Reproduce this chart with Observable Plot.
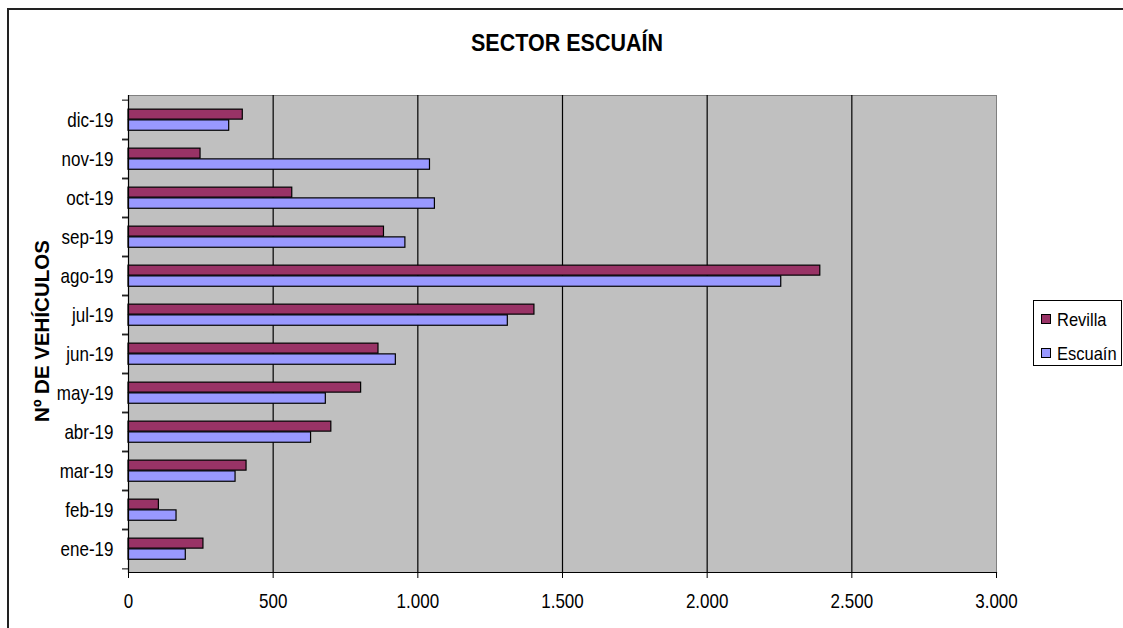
<!DOCTYPE html>
<html>
<head>
<meta charset="utf-8">
<script src="https://cdn.jsdelivr.net/npm/d3@7"></script>
<script src="https://cdn.jsdelivr.net/npm/@observablehq/plot@0.6"></script>
<style>
  body { margin: 0; background: #fff; }
  #wrap { position: relative; width: 1123px; height: 628px; overflow: hidden;
          font-family: 'Liberation Sans', Arial, sans-serif; color: #000; }
  #border { position: absolute; left: 7px; top: 8px; width: 1200px; height: 700px;
            border-left: 2px solid #222; border-top: 2px solid #222; }
  #chart { position: absolute; left: 0; top: 0; }
  #title { position: absolute; left: 367px; width: 400px; top: 31.5px; text-align: center;
           font-weight: bold; font-size: 21.5px; line-height: 21.5px; white-space: nowrap;
           transform: scaleY(1.15); transform-origin: 50% 3px; }
  #ytitle { position: absolute; left: -83px; top: 321px; width: 250px; height: 20px; text-align: center;
            font-weight: bold; font-size: 20.5px; line-height: 20px;
            transform: rotate(-90deg); transform-origin: 125px 10px; white-space: nowrap; }
  #legend { position: absolute; left: 1033px; top: 300px; width: 87px; height: 64px;
            background: #fff; border: 1px solid #000; }
  .item { position: absolute; left: 7px; height: 20px; display: flex; align-items: center;
          font-size: 16.5px; line-height: 20px; white-space: nowrap; }
  .lbl { display: inline-block; transform: scaleY(1.15); }
  .sw { width: 8px; height: 8px; border: 1px solid #000; margin-right: 6px; }
</style>
</head>
<body>
<div id="wrap">
  <div id="border"></div>
  <div id="chart"></div>
  <div id="title">SECTOR ESCUAÍN</div>
  <div id="ytitle">Nº DE VEHÍCULOS</div>
  <div id="legend"></div>
</div>
<script>
const months = ["ene-19","feb-19","mar-19","abr-19","may-19","jun-19","jul-19","ago-19","sep-19","oct-19","nov-19","dic-19"];
const revilla = [259, 105, 408, 701, 804, 864, 1403, 2391, 883, 566, 249, 395];
const escuain = [198, 166, 370, 631, 682, 924, 1311, 2256, 957, 1059, 1042, 348];
const seriesNames = ["Revilla", "Escuaín"];
const seriesColors = ["#993366", "#9999FF"];
const xTicks = [0, 500, 1000, 1500, 2000, 2500, 3000];
const gridTicks = [500, 1000, 1500, 2000, 2500];

const esLocale = d3.formatLocale({decimal: ",", thousands: ".", grouping: [3], currency: ["", " €"]});
const fmt = esLocale.format(",d");

const rows = months.map((m, i) => ({month: m, revilla: revilla[i], escuain: escuain[i]}));

const W = 1123, H = 628;
const mT = 95, mB = 56, mL = 128, mR = 127;
const step = (H - mT - mB) / months.length;

const chart = Plot.plot({
  width: W, height: H,
  marginTop: mT, marginBottom: mB, marginLeft: mL, marginRight: mR,
  style: {background: "transparent", fontFamily: "'Liberation Sans',Arial,sans-serif", fontSize: "17px", color: "#000"},
  x: {domain: [0, 3000]},
  y: {domain: months.slice().reverse(), padding: 0},
  marks: [
    Plot.frame({fill: "#c0c0c0", stroke: "#808080"}),
    Plot.gridX(gridTicks, {stroke: "#000", strokeOpacity: 1, strokeWidth: 1.2}),
    Plot.barX(rows, {x: "revilla", y: "month", fill: seriesColors[0], stroke: "#000", strokeWidth: 1.2,
                     insetTop: step * 0.23, insetBottom: step * 0.5}),
    Plot.barX(rows, {x: "escuain", y: "month", fill: seriesColors[1], stroke: "#000", strokeWidth: 1.2,
                     insetTop: step * 0.5, insetBottom: step * 0.22}),
    Plot.ruleX([0], {stroke: "#000", strokeWidth: 1.2}),
    Plot.frame({anchor: "bottom", stroke: "#000", strokeWidth: 1.2}),
    Plot.axisX({ticks: xTicks, tickFormat: fmt, tickSize: 6, tickPadding: 15, label: null, stroke: "#000"}),
    Plot.axisY({tickSize: 0, tickPadding: 15, label: null}),
    Plot.axisY({tickSize: 6, tickFormat: () => "", label: null, dy: step / 2}),
    Plot.axisY({tickSize: 6, tickFormat: () => "", label: null, dy: -step / 2})
  ]
});
// taller glyphs like the reference rendering
chart.querySelectorAll("text").forEach(t => {
  const tr = t.getAttribute("transform");
  if (tr) t.setAttribute("transform", tr + " scale(1,1.2)");
});
document.getElementById("chart").appendChild(chart);

const legend = document.getElementById("legend");
seriesNames.forEach((name, i) => {
  const it = document.createElement("div");
  it.className = "item";
  it.style.top = (8 + i * 34) + "px";
  const sw = document.createElement("span");
  sw.className = "sw";
  sw.style.background = seriesColors[i];
  it.appendChild(sw);
  const lb = document.createElement("span");
  lb.className = "lbl";
  lb.textContent = name;
  it.appendChild(lb);
  legend.appendChild(it);
});
</script>
</body>
</html>
